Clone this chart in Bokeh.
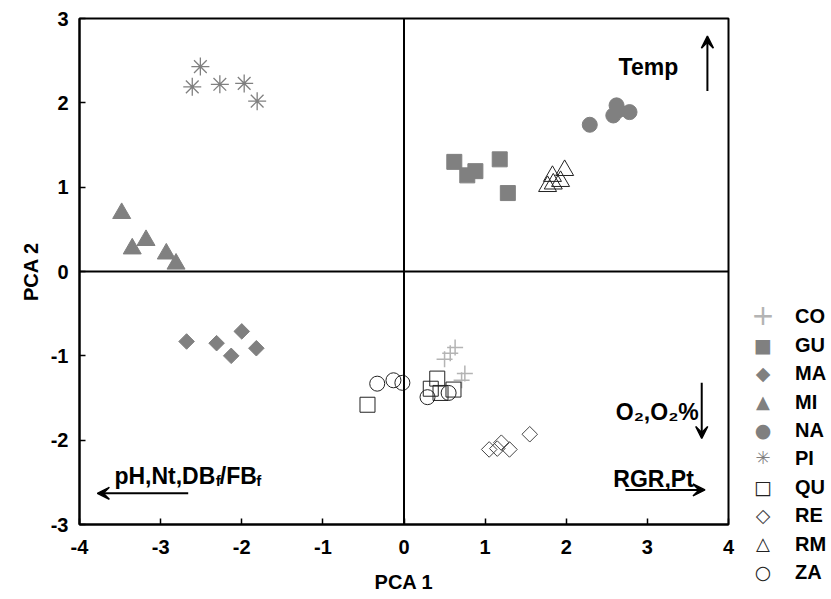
import math
from bokeh.plotting import figure
from bokeh.layouts import row
from bokeh.models import (Span, Arrow, VeeHead, Label, Div,
                          FixedTicker, ColumnDataSource)
from bokeh.embed import file_html
from bokeh.resources import INLINE

# ---------------- data ----------------
groups = ["CO", "GU", "MA", "MI", "NA", "PI", "QU", "RE", "RM", "ZA"]

co_x = [0.63, 0.50, 0.57, 0.75, 0.71]
co_y = [-0.90, -1.04, -0.97, -1.21, -1.29]

gu_x = [0.62, 0.78, 0.88, 1.18, 1.28]
gu_y = [1.30, 1.14, 1.19, 1.33, 0.93]

ma_x = [-2.68, -2.31, -2.00, -2.13, -1.82]
ma_y = [-0.83, -0.85, -0.71, -1.00, -0.91]

mi_x = [-3.48, -3.35, -3.18, -2.93, -2.81]
mi_y = [0.69, 0.27, 0.37, 0.21, 0.09]

na_x = [2.29, 2.62, 2.58, 2.78, 2.64]
na_y = [1.74, 1.97, 1.85, 1.89, 1.91]

pi_x = [-2.51, -2.61, -2.27, -1.97, -1.81]
pi_y = [2.43, 2.19, 2.22, 2.23, 2.02]

qu_x = [-0.45, 0.41, 0.33, 0.61, 0.45]
qu_y = [-1.58, -1.27, -1.39, -1.40, -1.44]

re_x = [1.55, 1.05, 1.20, 1.30, 1.15]
re_y = [-1.93, -2.11, -2.03, -2.11, -2.10]

rm_x = [1.77, 1.83, 1.93, 1.98, 1.84]
rm_y = [1.01, 1.13, 1.07, 1.20, 1.04]

za_x = [-0.33, -0.13, -0.02, 0.29, 0.55]
za_y = [-1.33, -1.29, -1.32, -1.49, -1.44]

x_ticks = [-4, -3, -2, -1, 0, 1, 2, 3, 4]
y_ticks = [-3, -2, -1, 0, 1, 2, 3]

series = {
    "CO": (co_x, co_y), "GU": (gu_x, gu_y), "MA": (ma_x, ma_y),
    "MI": (mi_x, mi_y), "NA": (na_x, na_y), "PI": (pi_x, pi_y),
    "QU": (qu_x, qu_y), "RE": (re_x, re_y), "RM": (rm_x, rm_y),
    "ZA": (za_x, za_y),
}

# ---------------- styles ----------------
GREY = "#808080"
LIGHT = "#b4b4b4"
DARK = "#222222"
styles = {
    "CO": dict(marker="cross", size=16, line_color=LIGHT, fill_color=None, line_width=1.5, angle=0),
    "GU": dict(marker="square", size=15, line_color=GREY, fill_color=GREY, line_width=1, angle=0),
    "MA": dict(marker="square", size=11, line_color=GREY, fill_color=GREY, line_width=1, angle=math.pi / 4),
    "MI": dict(marker="triangle", size=18, line_color=GREY, fill_color=GREY, line_width=1, angle=0),
    "NA": dict(marker="circle", size=15, line_color=GREY, fill_color=GREY, line_width=1, angle=0),
    "PI": dict(marker="asterisk", size=18, line_color=GREY, fill_color=None, line_width=1.3, angle=0),
    "QU": dict(marker="square", size=15, line_color=DARK, fill_color=None, line_width=1, angle=0),
    "RE": dict(marker="square", size=11, line_color="#444444", fill_color=None, line_width=1, angle=math.pi / 4),
    "RM": dict(marker="triangle", size=18, line_color=DARK, fill_color=None, line_width=1, angle=0),
    "ZA": dict(marker="circle", size=15, line_color=DARK, fill_color=None, line_width=1, angle=0),
}
# legend symbols (character, css font-size px, colour)
legend_symbols = {
    "CO": ("+", 28, LIGHT), "GU": ("■", 19, GREY), "MA": ("◆", 19, GREY),
    "MI": ("▲", 18, GREY), "NA": ("●", 19, GREY), "PI": ("✳", 18, GREY),
    "QU": ("□", 19, DARK), "RE": ("◇", 19, "#444444"), "RM": ("△", 18, DARK),
    "ZA": ("○", 19, DARK),
}

FONT = "Liberation Sans"

p = figure(width=735, height=599, x_range=(-4, 4), y_range=(-3, 3),
           output_backend="svg", toolbar_location=None,
           min_border_left=79, min_border_right=7,
           min_border_top=18, min_border_bottom=75)

p.grid.visible = False
p.outline_line_color = "black"
p.outline_line_width = 2
p.background_fill_color = "white"
p.border_fill_color = "white"

for ax, ticks in ((p.xaxis[0], x_ticks), (p.yaxis[0], y_ticks)):
    ax.ticker = FixedTicker(ticks=ticks)
    ax.major_label_overrides = {t: str(t) for t in ticks}
    ax.major_tick_in = 6
    ax.major_tick_out = 0
    ax.minor_tick_line_color = None
    ax.axis_line_color = "black"
    ax.axis_line_width = 2
    ax.major_tick_line_width = 1.5
    ax.major_label_text_font = FONT
    ax.major_label_text_font_style = "bold"
    ax.major_label_text_font_size = "20px"
    ax.major_label_text_color = "black"
    ax.axis_label_text_font = FONT
    ax.axis_label_text_font_style = "bold"
    ax.axis_label_text_font_size = "20px"
    ax.axis_label_text_color = "black"

p.xaxis.axis_label = "PCA 1"
p.yaxis.axis_label = "PCA 2"
p.xaxis.major_label_standoff = 15
p.xaxis.axis_label_standoff = 14
p.yaxis.major_label_standoff = 11
p.yaxis.axis_label_standoff = 6

# zero lines
p.add_layout(Span(location=0, dimension="height", line_color="black", line_width=2))
p.add_layout(Span(location=0, dimension="width", line_color="black", line_width=2))

for g in groups:
    xs, ys = series[g]
    st = styles[g]
    src = ColumnDataSource(dict(x=xs, y=ys))
    p.scatter("x", "y", source=src, marker=st["marker"], size=st["size"],
              line_color=st["line_color"], fill_color=st["fill_color"],
              line_width=st["line_width"], angle=st["angle"])

# annotations: arrows
head = dict(size=12, fill_color="black", line_color="black", line_width=1.5)
p.add_layout(Arrow(x_start=3.74, y_start=2.14, x_end=3.74, y_end=2.79,
                   line_width=2, end=VeeHead(**head)))
p.add_layout(Arrow(x_start=3.67, y_start=-1.32, x_end=3.67, y_end=-1.98,
                   line_width=2, end=VeeHead(**head)))
p.add_layout(Arrow(x_start=2.73, y_start=-2.59, x_end=3.71, y_end=-2.59,
                   line_width=2, end=VeeHead(**head)))
p.add_layout(Arrow(x_start=-2.66, y_start=-2.63, x_end=-3.78, y_end=-2.63,
                   line_width=2, end=VeeHead(**head)))

lab = dict(text_font=FONT, text_font_style="bold", text_color="black",
           text_baseline="alphabetic", text_align="left")
p.add_layout(Label(x=2.645, y=2.43, text="Temp", text_font_size="23px", **lab))
p.add_layout(Label(x=2.61, y=-1.67, text="O₂,O₂%", text_font_size="23px", **lab))
p.add_layout(Label(x=2.58, y=-2.46, text="RGR,Pt", text_font_size="23px", **lab))
p.add_layout(Label(x=-3.57, y=-2.42, text="pH,Nt,DB", text_font_size="23px", **lab))
p.add_layout(Label(x=-2.32, y=-2.48, text="f", text_font_size="15px", **lab))
p.add_layout(Label(x=-2.27, y=-2.42, text="/FB", text_font_size="23px", **lab))
p.add_layout(Label(x=-1.82, y=-2.48, text="f", text_font_size="15px", **lab))

# ---------------- legend panel (to the right of the plot) ----------------
LW, LH = 96, 599
first_cy, step = 315, 28.4
rows_html = []
for i, g in enumerate(groups):
    ch, fs, col = legend_symbols[g]
    top = first_cy + step * i - step / 2
    rows_html.append(
        f'<div style="position:absolute;left:0;top:{top:.1f}px;height:{step}px;'
        f'line-height:{step}px;white-space:nowrap;">'
        f'<span style="display:inline-block;width:56px;text-align:center;'
        f'font-family:\'DejaVu Sans\';font-weight:normal;font-size:{fs}px;color:{col};'
        f'vertical-align:middle;line-height:{step}px;">{ch}</span>'
        f'<span style="display:inline-block;margin-left:4px;vertical-align:middle;'
        f'line-height:{step}px;">{g}</span></div>'
    )
legend_div = Div(
    text=(f'<div style="position:relative;width:{LW}px;height:{LH}px;'
          f'font-family:\'{FONT}\';font-weight:bold;font-size:20px;color:black;">'
          + "".join(rows_html) + "</div>"),
    width=LW, height=LH, margin=0,
)

layout = row(p, legend_div, spacing=0)
open("out.html", "w").write(file_html(layout, INLINE))
